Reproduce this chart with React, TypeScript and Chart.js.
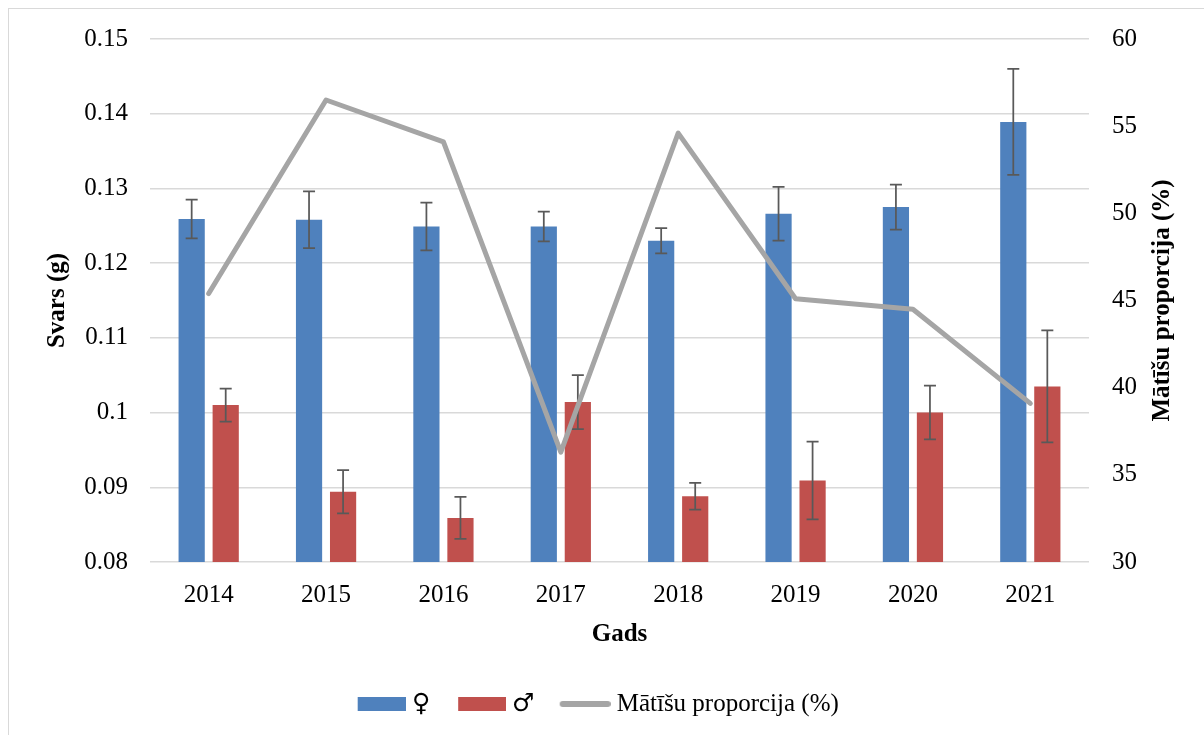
import React, { useEffect, useRef } from 'react';
import { Chart, registerables } from 'chart.js';

Chart.register(...registerables);

// ---- data ----
const years = ['2014', '2015', '2016', '2017', '2018', '2019', '2020', '2021'];
const femaleMean = [0.1259, 0.1258, 0.1249, 0.1249, 0.1230, 0.1266, 0.1275, 0.1389];
const femaleErr = [0.0026, 0.0038, 0.0032, 0.0020, 0.0017, 0.0036, 0.0030, 0.0071];
const maleMean = [0.1010, 0.0894, 0.0859, 0.1014, 0.0888, 0.0909, 0.1000, 0.1035];
const maleErr = [0.0022, 0.0029, 0.0028, 0.0036, 0.0018, 0.0052, 0.0036, 0.0075];
const femaleShare = [45.4, 56.5, 54.1, 36.3, 54.6, 45.1, 44.5, 39.1];

const femaleLabel = '♀';
const maleLabel = '♂';
const shareLabel = 'Mātīšu proporcija (%)';
const xTitle = 'Gads';
const yTitle = 'Svars (g)';
const y1Title = 'Mātīšu proporcija (%)';

const FONT = '"Liberation Serif", "Times New Roman", serif';
const LEGEND_FONT = '"GenderLight", "GenderSym", "Liberation Serif", serif';
const BLUE = '#4f81bd';
const RED = '#c0504d';
const GRAY = '#a5a5a5';

const FONT_FACE_CSS = `
@font-face { font-family: "GenderLight"; src: local("DejaVu Sans ExtraLight"), local("DejaVuSans-ExtraLight"); unicode-range: U+2640-2642; }
@font-face { font-family: "GenderSym"; src: local("DejaVu Sans"), local("DejaVuSans"); unicode-range: U+2640-2642; }
`;

function swatch(visibleW: number, h: number, color: string, line: boolean) {
  const totalW = 70;
  const c = document.createElement('canvas');
  c.width = totalW;
  c.height = 16;
  const ctx = c.getContext('2d')!;
  const x0 = totalW - visibleW;
  if (line) {
    ctx.strokeStyle = color;
    ctx.lineWidth = h;
    ctx.lineCap = 'round';
    ctx.beginPath();
    ctx.moveTo(x0 + h / 2, 8);
    ctx.lineTo(totalW - h / 2, 8);
    ctx.stroke();
  } else {
    ctx.fillStyle = color;
    ctx.fillRect(x0, 8 - h / 2, visibleW, h);
  }
  return c;
}

const errorBarPlugin = {
  id: 'errorBars',
  afterDatasetDraw(chart: any, args: any) {
    const ds = chart.data.datasets[args.index];
    if (!ds.errors) return;
    const scale = chart.scales[ds.yAxisID || 'y'];
    const ctx = chart.ctx;
    ctx.save();
    ctx.strokeStyle = '#595959';
    ctx.lineWidth = 1.75;
    args.meta.data.forEach((bar: any, i: number) => {
      const v = ds.data[i];
      const e = ds.errors[i];
      const top = scale.getPixelForValue(v + e);
      const bot = scale.getPixelForValue(v - e);
      const x = bar.x;
      ctx.beginPath();
      ctx.moveTo(x, top);
      ctx.lineTo(x, bot);
      ctx.moveTo(x - 6, top);
      ctx.lineTo(x + 6, top);
      ctx.moveTo(x - 6, bot);
      ctx.lineTo(x + 6, bot);
      ctx.stroke();
    });
    ctx.restore();
  },
};

const rightTitlePlugin = {
  id: 'rightTitle',
  afterDraw(chart: any) {
    const s = chart.scales.y1;
    const ctx = chart.ctx;
    const area = chart.chartArea;
    ctx.save();
    ctx.font = `bold 25px ${FONT}`;
    ctx.fillStyle = '#000';
    ctx.textAlign = 'center';
    ctx.textBaseline = 'middle';
    ctx.translate(s.left + 74, (area.top + area.bottom) / 2);
    ctx.rotate(-Math.PI / 2);
    ctx.fillText(y1Title, 0, 0);
    ctx.restore();
  },
};

export default function App() {
  const ref = useRef<HTMLCanvasElement>(null);

  useEffect(() => {
    let chart: Chart | null = null;
    let cancelled = false;

    const build = () => {
      if (cancelled || !ref.current) return;
      const swatches = [
        swatch(48, 14, BLUE, false),
        swatch(48, 14, RED, false),
        swatch(51, 6, GRAY, true),
      ];
      chart = new Chart(ref.current, {
        type: 'bar',
        data: {
          labels: years,
          datasets: [
            {
              type: 'bar',
              label: femaleLabel,
              data: femaleMean,
              errors: femaleErr,
              backgroundColor: BLUE,
              yAxisID: 'y',
              order: 1,
              categoryPercentage: 0.58,
              barPercentage: 0.77,
            } as any,
            {
              type: 'bar',
              label: maleLabel,
              data: maleMean,
              errors: maleErr,
              backgroundColor: RED,
              yAxisID: 'y',
              order: 1,
              categoryPercentage: 0.58,
              barPercentage: 0.77,
            } as any,
            {
              type: 'line',
              label: shareLabel,
              data: femaleShare,
              borderColor: GRAY,
              backgroundColor: GRAY,
              borderWidth: 5,
              pointRadius: 0,
              tension: 0,
              borderJoinStyle: 'round',
              borderCapStyle: 'round',
              yAxisID: 'y1',
              order: 0,
            } as any,
          ],
        },
        options: {
          animation: false,
          responsive: true,
          maintainAspectRatio: false,
          layout: { padding: { top: 21, left: 0, right: 32, bottom: 8.5 } },
          plugins: {
            tooltip: { enabled: false },
            legend: {
              position: 'bottom',
              labels: {
                usePointStyle: true,
                pointStyleWidth: 57,
                boxHeight: 14,
                padding: 13,
                color: '#000',
                font: { family: LEGEND_FONT, size: 25 },
                generateLabels: (c: any) =>
                  c.data.datasets.map((ds: any, i: number) => ({
                    text: ds.label,
                    pointStyle: swatches[i],
                    datasetIndex: i,
                    fontColor: '#000',
                    hidden: false,
                    lineWidth: 0,
                    strokeStyle: 'rgba(0,0,0,0)',
                    fillStyle: 'rgba(0,0,0,0)',
                  })),
              },
            },
          },
          scales: {
            x: {
              grid: { display: false, drawTicks: false },
              border: { display: false },
              ticks: { color: '#000', font: { family: FONT, size: 25 }, padding: 18 },
              title: {
                display: true,
                text: xTitle,
                color: '#000',
                font: { family: FONT, size: 25, weight: 'bold' },
                padding: { top: 0, bottom: 28.5 },
              },
              afterFit: (s: any) => {
                s.height = 116.5;
              },
            },
            y: {
              position: 'left',
              min: 0.08,
              max: 0.15,
              grid: { color: '#d9d9d9', lineWidth: 1.5, drawTicks: false },
              border: { display: false },
              ticks: {
                stepSize: 0.01,
                padding: 22,
                color: '#000',
                font: { family: FONT, size: 25 },
                callback: (v: any) => String(Number(Number(v).toFixed(2))),
              },
              title: {
                display: true,
                text: yTitle,
                color: '#000',
                font: { family: FONT, size: 25, weight: 'bold' },
                padding: { top: 33.5, bottom: 0 },
              },
              afterFit: (s: any) => {
                s.width = 141;
              },
            },
            y1: {
              position: 'right',
              min: 30,
              max: 60,
              grid: { display: false, drawTicks: false },
              border: { display: false },
              ticks: {
                stepSize: 5,
                padding: 23,
                color: '#000',
                font: { family: FONT, size: 25 },
              },
              afterFit: (s: any) => {
                s.width = 83;
              },
            },
          },
        } as any,
        plugins: [errorBarPlugin, rightTitlePlugin],
      });
    };

    const fontsApi: any = (document as any).fonts;
    if (fontsApi && fontsApi.load) {
      const timeout = new Promise((r) => setTimeout(r, 1500));
      Promise.race([
        Promise.all([
          fontsApi.load('25px "GenderLight"', '♀♂').catch(() => undefined),
          fontsApi.load('25px "GenderSym"', '♀♂').catch(() => undefined),
        ]),
        timeout,
      ])
        .catch(() => undefined)
        .then(build);
    } else {
      build();
    }

    return () => {
      cancelled = true;
      if (chart) chart.destroy();
    };
  }, []);

  return (
    <div
      style={{
        position: 'fixed',
        left: 8,
        top: 8,
        width: 1196,
        height: 727,
        borderLeft: '1px solid #d9d9d9',
        borderTop: '1px solid #d9d9d9',
        boxSizing: 'border-box',
        background: '#fff',
      }}
    >
      <style>{FONT_FACE_CSS}</style>
      <div style={{ position: 'absolute', left: 0, top: -8, width: 1195, height: 734 }}>
        <canvas ref={ref} />
      </div>
    </div>
  );
}
